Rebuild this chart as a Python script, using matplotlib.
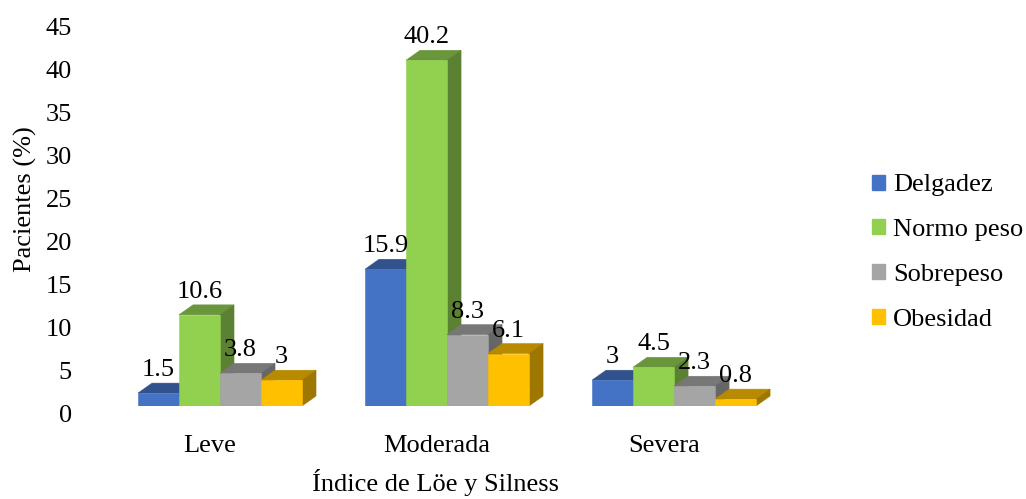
import numpy as np
import matplotlib
matplotlib.use("Agg")
import matplotlib.pyplot as plt
import matplotlib.transforms as transforms
from matplotlib.patches import Polygon, Patch
from matplotlib.colors import to_rgb

# ---------------------------------------------------------------------------
# Data
# ---------------------------------------------------------------------------
categories = ["Leve", "Moderada", "Severa"]
series     = ["Delgadez", "Normo peso", "Sobrepeso", "Obesidad"]
delgadez   = [1.5, 15.9, 3.0]
normo_peso = [10.6, 40.2, 4.5]
sobrepeso  = [3.8, 8.3, 2.3]
obesidad   = [3.0, 6.1, 0.8]
value_labels = [
    ["1.5", "15.9", "3"],
    ["10.6", "40.2", "4.5"],
    ["3.8", "8.3", "2.3"],
    ["3", "6.1", "0.8"],
]
colors = ["#4472C4", "#92D050", "#A5A5A5", "#FFC000"]

# ---------------------------------------------------------------------------
# Layout / style
# ---------------------------------------------------------------------------
FONT    = ["Liberation Serif", "DejaVu Serif"]
FS      = 19
BAR_W   = 0.1806     # front face width (category units)
SHIFT   = 0.044      # bars sit slightly right of the category label
DEPTH_X = 0.062      # pseudo-3D depth, x (category units)
DEPTH_Y = 1.16       # pseudo-3D depth, y (value units)

plt.rcParams["font.family"] = FONT
plt.rcParams["font.size"] = FS


def shade(c, f):
    r, g, b = to_rgb(c)
    return (r * f, g * f, b * f)


def draw_bar(ax, x0, h, color):
    x1 = x0 + BAR_W
    top = [(x0, h), (x1, h), (x1 + DEPTH_X, h + DEPTH_Y), (x0 + DEPTH_X, h + DEPTH_Y)]
    side = [(x1, 0), (x1 + DEPTH_X, DEPTH_Y), (x1 + DEPTH_X, h + DEPTH_Y), (x1, h)]
    front = [(x0, 0), (x1, 0), (x1, h), (x0, h)]
    ax.add_patch(Polygon(top, closed=True, fc=shade(color, 0.72), ec=shade(color, 0.72), lw=0.4))
    ax.add_patch(Polygon(side, closed=True, fc=shade(color, 0.62), ec=shade(color, 0.62), lw=0.4))
    ax.add_patch(Polygon(front, closed=True, fc=color, ec=color, lw=0.4))


fig = plt.figure(figsize=(10.26, 4.99), dpi=100)
ax = fig.add_axes([76 / 1026, 93 / 499, 724 / 1026, 404 / 499])

values = [delgadez, normo_peso, sobrepeso, obesidad]
x = np.arange(len(categories))
for i in x:
    for j, vals in enumerate(values):
        x0 = i + SHIFT - 2 * BAR_W + j * BAR_W
        draw_bar(ax, x0, vals[i], colors[j])
        ax.annotate(value_labels[j][i], (x0 + BAR_W / 2, vals[i] + DEPTH_Y),
                    xytext=(0, 7), textcoords="offset pixels",
                    ha="center", va="baseline", fontsize=FS)

ax.set_xlim(-0.590, 2.599)
ax.set_ylim(0, 46.98)
ax.set_xticks(x)
ax.set_xticklabels(categories)
ax.set_yticks(np.arange(0, 46, 5))
ax.tick_params(axis="both", length=0, labelsize=FS)
ax.tick_params(axis="x", pad=21)
ax.tick_params(axis="y", pad=3)
shift_down = transforms.ScaledTranslation(0, -0.075, fig.dpi_scale_trans)
for lab in ax.get_yticklabels():
    lab.set_transform(lab.get_transform() + shift_down)
for s in ax.spines.values():
    s.set_visible(False)

fig.text(25 / 1026, 1 - 199 / 499, "Pacientes (%)", rotation=90,
         ha="center", va="center", fontsize=FS)
fig.text(436 / 1026, 1 - 491 / 499, "Índice de Löe y Silness",
         ha="center", va="baseline", fontsize=FS)

handles = [Patch(fc=c, ec=c) for c in colors]
fig.legend(handles, series, loc="center left", bbox_to_anchor=(872 / 1026, 0.494),
           frameon=False, fontsize=FS, handlelength=0.5, handleheight=0.5,
           handletextpad=0.3, labelspacing=0.86, borderpad=0, borderaxespad=0)

fig.savefig("out.png", dpi=100)
